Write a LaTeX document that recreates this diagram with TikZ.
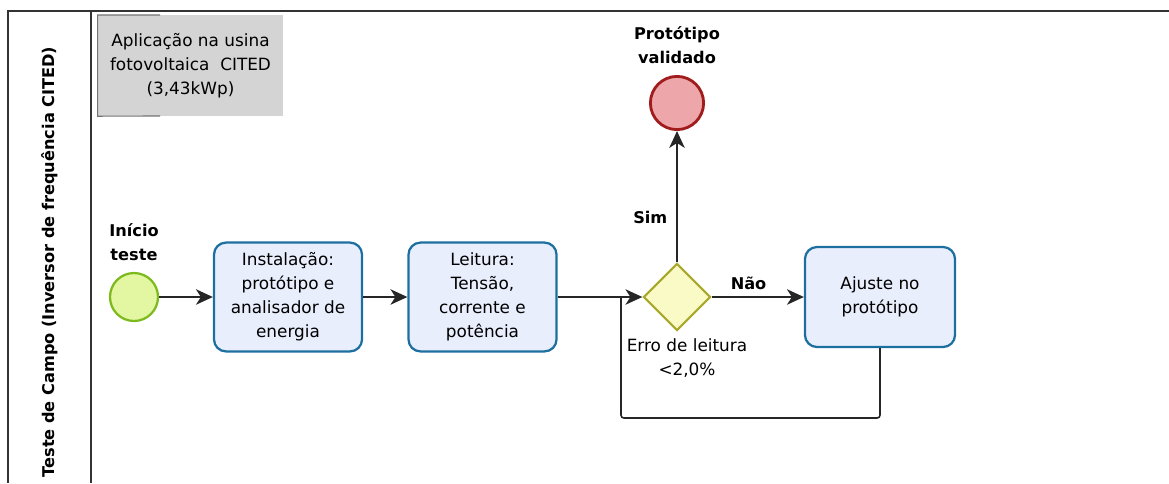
\documentclass[tikz,border=0pt]{standalone}
\usepackage{fontspec}
\setmainfont{DejaVu Sans}
\usetikzlibrary{shapes.geometric,arrows.meta}

\definecolor{taskFill}{HTML}{E9EEFC}
\definecolor{taskLine}{HTML}{1D6FA0}
\definecolor{startFill}{HTML}{E3F7A2}
\definecolor{startLine}{HTML}{7DBA1E}
\definecolor{endFill}{HTML}{EDA6AA}
\definecolor{endLine}{HTML}{A11C1C}
\definecolor{gateFill}{HTML}{FAFAC6}
\definecolor{gateLine}{HTML}{A8A82A}
\definecolor{noteFill}{HTML}{D4D4D4}

\begin{document}
\begin{tikzpicture}
[x=0.025cm,y=-0.025cm,font=\fontsize{12}{17}\selectfont,
  taskDecorate/.style={shape=rectangle,rounded corners=0.3cm,draw=taskLine,
    fill=taskFill,line width=1.6pt,align=center,minimum width=3.7cm,minimum height=2.72cm},
  startDecorate/.style={shape=circle,draw=startLine,fill=startFill,line width=1.6pt,
    minimum size=1.2cm,inner sep=0pt},
  endDecorate/.style={shape=circle,draw=endLine,fill=endFill,line width=2pt,
    minimum size=1.33cm,inner sep=0pt},
  gateDecorate/.style={shape=diamond,draw=gateLine,fill=gateFill,line width=1.5pt,
    minimum size=1.68cm,inner sep=0pt},
  labelDecorate/.style={align=center,font=\fontsize{11.5}{17}\selectfont\bfseries},
  lineDecorate/.style={draw=black!85,line width=1.1pt},
  arrowDecorate/.style={lineDecorate,-{Stealth[length=12pt,width=11pt,inset=3.5pt]}}]
\useasboundingbox (0,0) rectangle (1169,483);
%% pool and lane
\draw[line width=1.5pt,black!80] (8,483) -- (8,11) -- (1169,11);
\draw[line width=1.2pt,black!80] (91,11) -- (91,483);
\node (laneName) at (50,262) [rotate=90,font=\fontsize{11.5}{14}\selectfont\bfseries]
  {Teste de Campo (Inversor de frequência CITED)};
%% annotation
\node (note) at (190.5,65.5) [shape=rectangle,fill=noteFill,minimum width=4.63cm,
  minimum height=2.52cm,align=center,inner sep=0pt]
  {Aplicação na usina\\fotovoltaica\ \ CITED\\(3,43kWp)};
\draw[black!55,line width=0.8pt] (160,15) -| (note.south west) -- (160,116);
%% events and gateway
\node (start) at (134,297) [startDecorate] {};
\node (startLabel) at (134,242) [labelDecorate] {Início\\teste};
\node (finish) at (677,103) [endDecorate] {};
\node (finishLabel) at (677,45) [labelDecorate] {Protótipo\\validado};
\node (gate) at (677,297) [gateDecorate] {};
\node (gateLabel) at (687,358) [align=center] {Erro de leitura\\<2,0\%};
%% tasks
\foreach \nodename/\x/\y/\txt in {install/288/297/{Instalação:\\protótipo e\\analisador de\\energia},
  reading/482.5/297/{Leitura:\\Tensão,\\corrente e\\potência}} {
  \node (\nodename) at (\x,\y) [taskDecorate] {\txt};
}
\node (adjust) at (880,297) [taskDecorate,minimum width=3.75cm,minimum height=2.5cm]
  {Ajuste no\\protótipo};
%% flows
\foreach \startnode/\endnode in {start/install, install/reading, reading/gate} {
  \draw[arrowDecorate] (\startnode) -- (\endnode);
}
\draw[arrowDecorate] (gate) -- node[pos=0.34,left=3pt,labelDecorate] (yesLabel) {Sim} (finish);
\draw[arrowDecorate] (gate) -- node[above=1pt,pos=0.4,labelDecorate] (noLabel) {Não} (adjust);
\coordinate (loopCorner) at (621,418);
\coordinate (loopJoin) at (621,297);
\draw[lineDecorate,rounded corners=2pt] (adjust.south) |- (loopCorner) -- (loopJoin);
\end{tikzpicture}
\end{document}
